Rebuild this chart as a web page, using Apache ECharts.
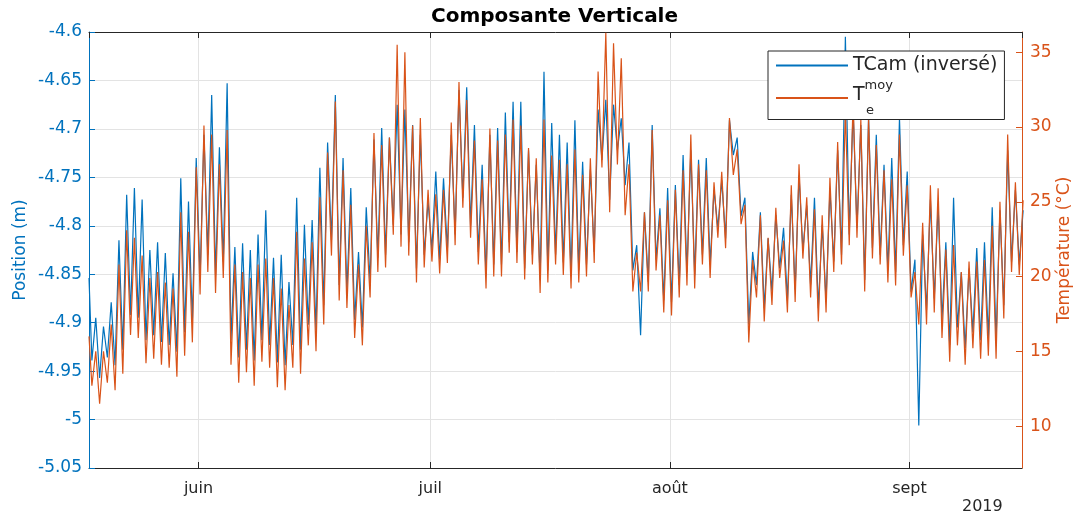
<!DOCTYPE html>
<html><head><meta charset="utf-8">
<script src="https://cdn.jsdelivr.net/npm/echarts@6/dist/echarts.min.js"></script>
<style>html,body{margin:0;padding:0;background:#fff}#c{width:1078px;height:517px}</style>
</head><body><div id="c"></div>
<script>
// ---- data (daily extrema, first day = 18 May 2019) ----
const monthLabels = ['janv', 'févr', 'mars', 'avr', 'mai', 'juin', 'juil', 'août', 'sept', 'oct', 'nov', 'déc'];
const startTemp = 16.0;   // value at the left edge (17 May evening)
const startPos = -4.854;
// daily maximum of T_e^moy (°C)
const tempMax = [
  15.0, 15.0, 16.8, 20.8, 23.1, 22.6, 21.4, 19.9, 20.3, 19.6,
  19.2, 24.3, 23.0, 27.3, 30.1, 29.5, 27.5, 29.8, 20.8, 20.3,
  19.9, 20.8, 21.2, 19.9, 19.2, 18.1, 23.0, 21.2, 22.3, 25.3,
  28.3, 31.7, 27.1, 24.8, 20.8, 23.4, 29.6, 28.8, 29.3, 35.5,
  35.0, 30.1, 30.6, 25.8, 25.5, 25.8, 30.3, 33.0, 31.8, 29.1,
  26.5, 29.9, 29.1, 29.5, 30.5, 30.1, 28.6, 27.9, 30.5, 28.1,
  27.8, 27.5, 28.5, 26.8, 27.9, 33.7, 36.3, 35.6, 34.6, 27.5,
  21.6, 24.3, 29.8, 24.1, 25.1, 25.8, 27.1, 29.5, 27.5, 27.1,
  26.3, 27.0, 30.6, 28.5, 24.8, 21.1, 24.1, 22.6, 24.6, 22.4,
  26.1, 27.5, 25.3, 24.5, 24.1, 26.6, 29.0, 31.1, 31.8, 30.5,
  30.6, 28.8, 27.1, 26.5, 29.5, 26.1, 20.3, 23.6, 26.1, 25.9,
  21.8, 22.1, 20.3, 21.0, 21.0, 21.1, 23.4, 25.0, 29.5, 26.3,
  25.1
];
// daily minimum of T_e^moy (°C)
const tempMin = [
  12.7, 11.5, 12.9, 12.4, 13.5, 16.1, 15.9, 14.2, 14.5, 14.1,
  13.9, 13.3, 14.7, 15.6, 18.8, 20.3, 18.9, 19.9, 14.1, 12.9,
  13.6, 12.7, 14.3, 13.9, 12.6, 12.4, 13.9, 13.5, 15.4, 15.0,
  16.8, 21.4, 18.4, 17.9, 15.9, 15.4, 18.6, 20.3, 20.6, 22.8,
  22.0, 21.4, 19.6, 20.6, 21.0, 20.2, 20.9, 22.1, 24.6, 22.6,
  20.8, 19.2, 20.0, 20.0, 21.6, 20.9, 19.8, 20.8, 18.9, 19.6,
  20.8, 20.1, 19.2, 19.6, 20.0, 20.9, 27.3, 24.3, 27.5, 24.1,
  19.0, 19.0, 19.0, 20.4, 17.6, 17.4, 18.6, 19.4, 19.2, 20.8,
  19.9, 22.6, 21.9, 26.8, 23.5, 15.6, 18.6, 17.0, 18.1, 19.9,
  17.6, 18.3, 21.2, 18.6, 17.0, 17.6, 20.3, 20.8, 22.1, 22.6,
  19.0, 21.2, 20.8, 19.6, 19.4, 21.4, 18.6, 16.8, 16.8, 17.6,
  15.9, 14.3, 15.4, 14.1, 15.2, 14.5, 14.7, 14.5, 17.2, 20.3,
  20.1
];
// daily high of TCam (inversé) position (m)
const posMax = [
  -4.895, -4.904, -4.879, -4.815, -4.768, -4.761, -4.773, -4.825, -4.817, -4.828,
  -4.849, -4.751, -4.775, -4.730, -4.706, -4.665, -4.719, -4.653, -4.822, -4.818,
  -4.825, -4.809, -4.784, -4.833, -4.830, -4.858, -4.771, -4.799, -4.794, -4.740,
  -4.714, -4.665, -4.730, -4.761, -4.827, -4.781, -4.711, -4.699, -4.709, -4.675,
  -4.680, -4.696, -4.706, -4.775, -4.744, -4.751, -4.706, -4.660, -4.657, -4.696,
  -4.737, -4.706, -4.699, -4.683, -4.672, -4.672, -4.722, -4.737, -4.641, -4.694,
  -4.706, -4.714, -4.691, -4.734, -4.742, -4.680, -4.670, -4.675, -4.689, -4.714,
  -4.820, -4.786, -4.696, -4.782, -4.761, -4.758, -4.727, -4.722, -4.732, -4.730,
  -4.763, -4.753, -4.691, -4.709, -4.771, -4.827, -4.786, -4.813, -4.789, -4.802,
  -4.768, -4.748, -4.779, -4.771, -4.799, -4.763, -4.722, -4.605, -4.680, -4.696,
  -4.689, -4.706, -4.737, -4.730, -4.689, -4.744, -4.835, -4.809, -4.773, -4.779,
  -4.817, -4.771, -4.848, -4.844, -4.823, -4.817, -4.781, -4.784, -4.722, -4.763,
  -4.784
];
// daily low of TCam (inversé) position (m)
const posMin = [
  -4.939, -4.957, -4.936, -4.944, -4.928, -4.892, -4.895, -4.918, -4.913, -4.920,
  -4.923, -4.930, -4.910, -4.899, -4.854, -4.830, -4.851, -4.837, -4.918, -4.936,
  -4.928, -4.939, -4.918, -4.923, -4.941, -4.944, -4.923, -4.928, -4.902, -4.908,
  -4.882, -4.815, -4.861, -4.868, -4.897, -4.905, -4.858, -4.833, -4.830, -4.799,
  -4.809, -4.817, -4.844, -4.830, -4.825, -4.835, -4.825, -4.809, -4.771, -4.800,
  -4.827, -4.851, -4.840, -4.840, -4.817, -4.827, -4.844, -4.830, -4.856, -4.846,
  -4.830, -4.838, -4.851, -4.846, -4.840, -4.827, -4.732, -4.773, -4.722, -4.758,
  -4.846, -4.913, -4.858, -4.835, -4.877, -4.879, -4.861, -4.848, -4.851, -4.830,
  -4.840, -4.802, -4.813, -4.727, -4.790, -4.902, -4.861, -4.885, -4.868, -4.844,
  -4.877, -4.866, -4.825, -4.861, -4.885, -4.877, -4.837, -4.830, -4.809, -4.802,
  -4.856, -4.823, -4.830, -4.846, -4.848, -4.820, -4.868, -5.006, -4.887, -4.875,
  -4.897, -4.923, -4.905, -4.926, -4.910, -4.918, -4.916, -4.918, -4.882, -4.837,
  -4.840
];
const minHour = 5, maxHour = 17;

// ---- build series ----
const axisStart = new Date(2019, 4, 17, 20).getTime();
const axisEnd = new Date(2019, 8, 15, 13, 30).getTime();
function at(d, h) { return new Date(2019, 4, 18 + d, h).getTime(); }
const tempData = [[axisStart, startTemp]];
const posData = [[axisStart, startPos]];
for (let d = 0; d < tempMax.length; d++) {
  tempData.push([at(d, minHour), tempMin[d]], [at(d, maxHour), tempMax[d]]);
  posData.push([at(d, minHour), posMin[d]], [at(d, maxHour), posMax[d]]);
}

const BLUE = '#0072BD', ORANGE = '#D95319', DARK = '#262626', GRID = '#e3e3e3';
const FONT = 'DejaVu Sans';
const chart = echarts.init(document.getElementById('c'), null, {renderer: 'canvas'});
chart.setOption({
  animation: false,
  backgroundColor: '#fff',
  title: {
    text: 'Composante Verticale', left: 431, top: 7, padding: 0,
    textStyle: {fontFamily: FONT, fontSize: 20, fontWeight: 'bold', color: '#000'}
  },
  grid: {left: 89, right: 56, top: 32, bottom: 49, containLabel: false, outerBoundsMode: 'none'},
  legend: {
    orient: 'vertical', left: 768, top: 51,
    padding: [5, 7, 2, 8], itemGap: 4,
    itemWidth: 72, itemHeight: 2, icon: 'rect',
    backgroundColor: '#fff', borderColor: DARK, borderWidth: 1,
    textStyle: {
      fontFamily: FONT, fontSize: 19, color: DARK,
      rich: {
        t: {fontFamily: FONT, fontSize: 19, color: DARK, lineHeight: 26, verticalAlign: 'bottom'},
        s: {fontFamily: FONT, fontSize: 13, color: DARK, lineHeight: 26, verticalAlign: 'top'},
        e: {fontFamily: FONT, fontSize: 13, color: DARK, lineHeight: 12, padding: [0, 0, 0, 13]}
      }
    },
    formatter: function (name) {
      return name === 'Te' ? '{t|T}{s|moy}\n{e|e}' : 'TCam (inversé)';
    },
    data: ['TCam', 'Te']
  },
  xAxis: [{
    type: 'time', min: axisStart, max: axisEnd, splitNumber: 4,
    axisLine: {lineStyle: {color: DARK, width: 1}},
    axisTick: {inside: true, length: 6, lineStyle: {color: DARK}},
    axisLabel: {
      fontFamily: FONT, fontSize: 16, color: DARK, margin: 13,
      formatter: function (v) { return monthLabels[new Date(v).getMonth()]; }
    },
    splitLine: {show: true, lineStyle: {color: GRID, width: 1}}
  }, {
    type: 'time', position: 'top', min: axisStart, max: axisEnd, splitNumber: 4,
    axisLine: {lineStyle: {color: DARK, width: 1}},
    axisTick: {inside: true, length: 6, lineStyle: {color: DARK}},
    axisLabel: {show: false}, splitLine: {show: false}
  }],
  yAxis: [{
    type: 'value', position: 'left', min: -5.05, max: -4.6, interval: 0.05,
    name: 'Position (m)', nameLocation: 'middle', nameGap: 60, nameRotate: 90, nameMoveOverlap: false,
    nameTextStyle: {fontFamily: FONT, fontSize: 17, color: BLUE},
    axisLine: {show: true, lineStyle: {color: BLUE, width: 1}},
    axisTick: {show: true, inside: true, length: 6, lineStyle: {color: BLUE}},
    axisLabel: {
      fontFamily: FONT, fontSize: 17, color: BLUE, margin: 7,
      formatter: function (v) { return String(+v.toFixed(2)); }
    },
    splitLine: {show: true, lineStyle: {color: GRID, width: 1}}
  }, {
    type: 'value', position: 'right', min: 7.2, max: 36.35, splitNumber: 6,
    name: 'Température (°C)', nameLocation: 'middle', nameGap: 34, nameRotate: 90, nameMoveOverlap: false,
    nameTextStyle: {fontFamily: FONT, fontSize: 17, color: ORANGE},
    axisLine: {show: true, lineStyle: {color: ORANGE, width: 1}},
    axisTick: {show: true, inside: true, length: 6, lineStyle: {color: ORANGE}},
    axisLabel: {
      fontFamily: FONT, fontSize: 17, color: ORANGE, margin: 8,
      showMinLabel: false, showMaxLabel: false
    },
    splitLine: {show: false}
  }],
  graphic: [{
    type: 'text', left: 962, top: 499,
    style: {text: '2019', fontFamily: FONT, fontSize: 16, fill: DARK}
  }],
  series: [{
    name: 'TCam', type: 'line', xAxisIndex: 0, yAxisIndex: 0,
    data: posData, showSymbol: false, symbol: 'none', color: BLUE,
    lineStyle: {width: 1.2, color: BLUE}, z: 2
  }, {
    name: 'Te', type: 'line', xAxisIndex: 0, yAxisIndex: 1,
    data: tempData, showSymbol: false, symbol: 'none', color: ORANGE,
    lineStyle: {width: 1.2, color: ORANGE}, z: 3
  }]
});
</script>
</body></html>
